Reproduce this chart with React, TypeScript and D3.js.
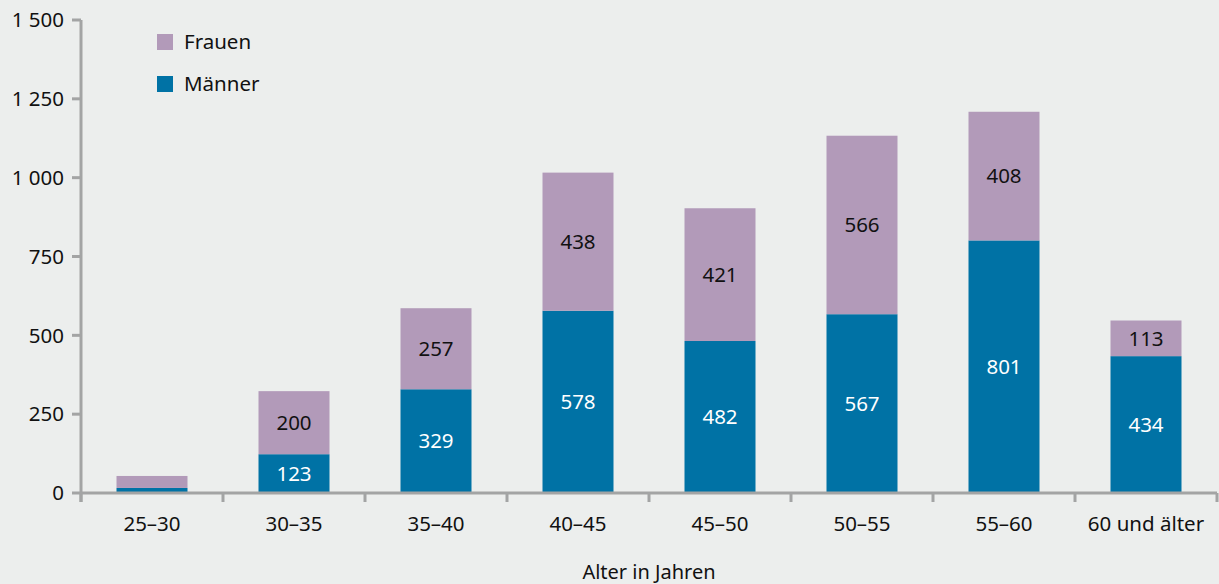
import React from "react";
import * as d3 from "d3";

const categories = ["25–30", "30–35", "35–40", "40–45", "45–50", "50–55", "55–60", "60 und älter"];
const maenner = [16, 123, 329, 578, 482, 567, 801, 434];
const frauen = [38, 200, 257, 438, 421, 566, 408, 113];
const showLabels = [false, true, true, true, true, true, true, true];
const yTicks = [0, 250, 500, 750, 1000, 1250, 1500];

const W = 1219, H = 584;
const left = 81, right = 1217, top = 20, bottom = 493;
const FONT = "'Noto Sans', 'Open Sans', sans-serif";
const C_F = "#b29ab9";
const C_M = "#0072a5";
const AXIS = "#a3a4a4";

const fmt = (v: number) => {
  const s = String(v);
  return s.length > 3 ? s.slice(0, s.length - 3) + " " + s.slice(s.length - 3) : s;
};

export default function App() {
  const x = d3.scaleBand<string>().domain(categories).range([left, right]).paddingInner(0.5).paddingOuter(0.25);
  const y = d3.scaleLinear().domain([0, 1500]).range([bottom, top]);
  const step = x.step();
  return (
    <svg width={W} height={H} style={{ position: "absolute", left: 0, top: 0, background: "#eceeed" }} fontFamily={FONT}>
      <rect x={0} y={0} width={W} height={H} fill="#eceeed" />
      {categories.map((c, i) => {
        const x0 = x(c)!;
        const bw = x.bandwidth();
        const yM = y(maenner[i]);
        const yF = y(maenner[i] + frauen[i]);
        return (
          <g key={c}>
            <rect x={x0} y={yM} width={bw} height={bottom - yM} fill={C_M} />
            <rect x={x0} y={yF} width={bw} height={yM - yF} fill={C_F} />
            {showLabels[i] && (
              <>
                <text x={x0 + bw / 2} y={(bottom + yM) / 2} dy="0.35em" textAnchor="middle" fontSize={20.5} fill="#ffffff">{maenner[i]}</text>
                <text x={x0 + bw / 2} y={(yM + yF) / 2} dy="0.35em" textAnchor="middle" fontSize={20.5} fill="#111111">{frauen[i]}</text>
              </>
            )}
            <text x={x0 + bw / 2} y={524} dy="0.35em" textAnchor="middle" fontSize={20.5} fill="#111111">{c}</text>
          </g>
        );
      })}
      {/* y axis */}
      <line x1={left} x2={left} y1={top} y2={bottom + 9} stroke={AXIS} strokeWidth={3} />
      {yTicks.map((t) => (
        <g key={t}>
          <line x1={left - 9} x2={left} y1={y(t)} y2={y(t)} stroke={AXIS} strokeWidth={3} />
          <text x={left - 17} y={y(t)} dy="0.35em" textAnchor="end" fontSize={20.5} fill="#111111">{fmt(t)}</text>
        </g>
      ))}
      {/* x axis */}
      <line x1={left} x2={right} y1={bottom} y2={bottom} stroke={AXIS} strokeWidth={3} />
      {d3.range(categories.length + 1).map((k) => (
        <line key={k} x1={left + k * step} x2={left + k * step} y1={bottom} y2={bottom + 9} stroke={AXIS} strokeWidth={3} />
      ))}
      <text x={(left + right) / 2} y={572} dy="0.35em" textAnchor="middle" fontSize={20} fill="#111111">Alter in Jahren</text>
      {/* legend */}
      <rect x={157} y={34} width={16} height={16} fill={C_F} />
      <text x={184} y={42} dy="0.35em" fontSize={20.5} fill="#111111">Frauen</text>
      <rect x={157} y={76} width={16} height={16} fill={C_M} />
      <text x={184} y={84} dy="0.35em" fontSize={20.5} fill="#111111">Männer</text>
    </svg>
  );
}
